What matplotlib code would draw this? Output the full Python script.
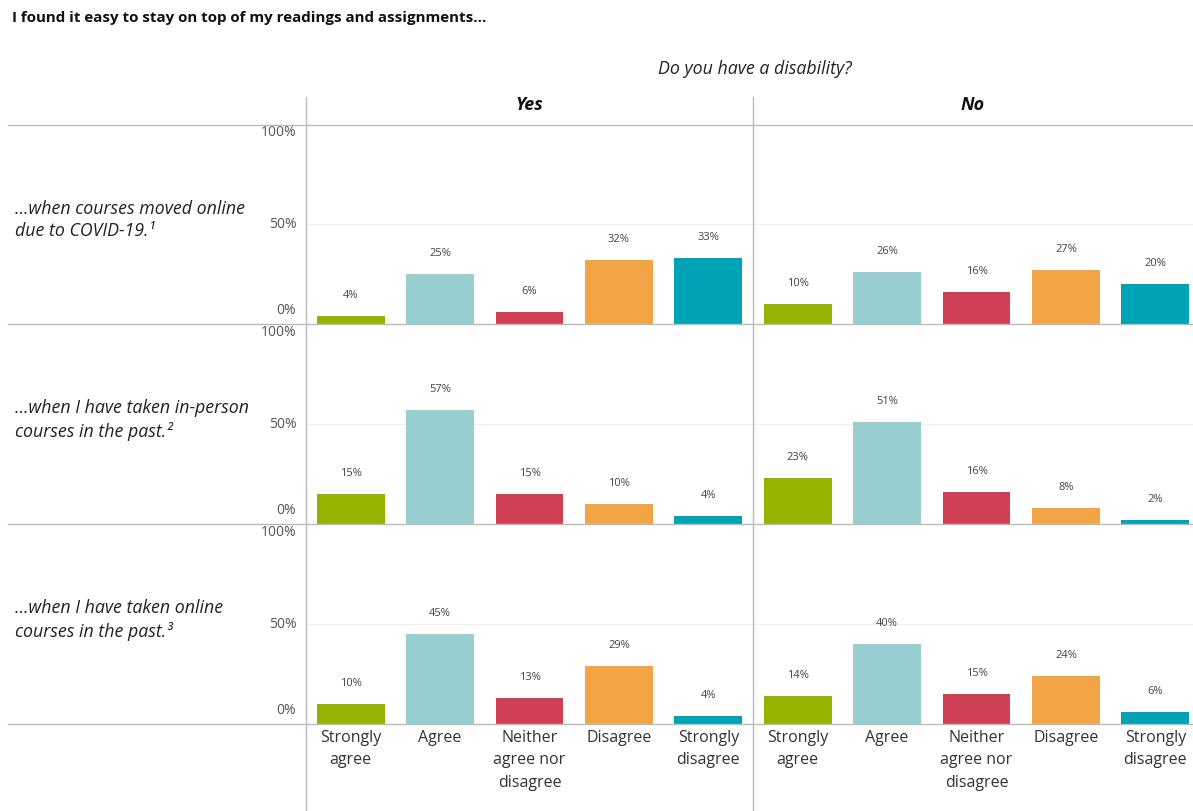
import matplotlib.pyplot as plt
from matplotlib.lines import Line2D

plt.rcParams['font.family'] = ['Open Sans', 'Noto Sans', 'DejaVu Sans']

# survey responses
categories = ["Strongly\nagree", "Agree", "Neither\nagree nor\ndisagree", "Disagree", "Strongly\ndisagree"]
colors = ["#93B300", "#98CED0", "#D13F55", "#F3A545", "#00A3B5"]
groups = ["Yes", "No"]
row_labels = [
    "...when courses moved online\ndue to COVID-19.\u00b9",
    "...when I have taken in-person\ncourses in the past.\u00b2",
    "...when I have taken online\ncourses in the past.\u00b3",
]
covid_yes = [4, 25, 6, 32, 33]
covid_no = [10, 26, 16, 27, 20]
inperson_yes = [15, 57, 15, 10, 4]
inperson_no = [23, 51, 16, 8, 2]
online_yes = [10, 45, 13, 29, 4]
online_no = [14, 40, 15, 24, 6]
values = [[covid_yes, covid_no], [inperson_yes, inperson_no], [online_yes, online_no]]
axis_ticks = [0, 50, 100]

W, H = 1193, 811
fig = plt.figure(figsize=(W / 100, H / 100), dpi=100)

def px_box(x0, y0, x1, y1):
    return [x0 / W, 1 - y1 / H, (x1 - x0) / W, (y1 - y0) / H]

col_x = [(306, 753), (753, 1193)]
line_c = "#BBBBBB"

for r in range(3):
    top, bot = 124 + 200 * r, 324 + 200 * r
    for c in range(2):
        x0, x1 = col_x[c]
        ax = fig.add_axes(px_box(x0, top, x1, bot))
        vals = values[r][c]
        xs = range(len(vals))
        ax.bar(xs, vals, width=0.76, color=colors)
        for i, v in zip(xs, vals):
            ax.annotate(f"{v}%", (i, v), xytext=(0, 15), textcoords="offset points",
                        ha="center", va="center", fontsize=8, color="#444444")
        ax.set_ylim(0, 100)
        ax.set_xlim(-0.5, -0.5 + 5 * (x1 - x0) / 447)
        ax.axhline(50, color="#F0F0F0", lw=0.8, zorder=0)
        for s in ax.spines.values():
            s.set_visible(False)
        ax.patch.set_alpha(0)
        ax.set_yticks([])
        if c == 0:
            # axis labels sit inside the row band: 0% above the baseline, 100% below the top
            for t, dy in zip(axis_ticks, [10, 0, -6]):
                ax.annotate(f"{t}%", (0, t), xycoords=("axes fraction", "data"),
                            xytext=(-7, dy), textcoords="offset points",
                            ha="right", va="center", fontsize=10, color="#555555",
                            annotation_clip=False)
        if r == 2:
            ax.set_xticks(list(xs))
            ax.set_xticklabels(categories, fontsize=11.5, color="#333333", linespacing=1.55)
            ax.tick_params(axis="x", length=0, pad=4)
        else:
            ax.set_xticks([])
    fig.text(15 / W, 1 - (220 + 200 * r) / H, row_labels[r], ha="left", va="center",
             fontsize=12.8, style="italic", color="#222222", linespacing=1.3)

# grid frame
for y in [125, 324, 524, 724]:
    fig.add_artist(Line2D([8 / W, 1], [1 - y / H] * 2, color=line_c, lw=1))
for x in [306, 753]:
    fig.add_artist(Line2D([x / W] * 2, [1 - 97 / H, 0], color=line_c, lw=1))

fig.text(12 / W, 1 - 18 / H, "I found it easy to stay on top of my readings and assignments...",
         ha="left", va="center", fontsize=10.9, fontweight="bold", color="#111111")
fig.text(755 / W, 1 - 69 / H, "Do you have a disability?", ha="center", va="center",
         fontsize=12.8, style="italic", color="#222222")
for g, (x0, x1) in zip(groups, col_x):
    fig.text((x0 + x1) / 2 / W, 1 - 105 / H, g, ha="center", va="center",
             fontsize=13, style="italic", fontweight="bold", color="#111111")

fig.savefig("out.png", dpi=100)
